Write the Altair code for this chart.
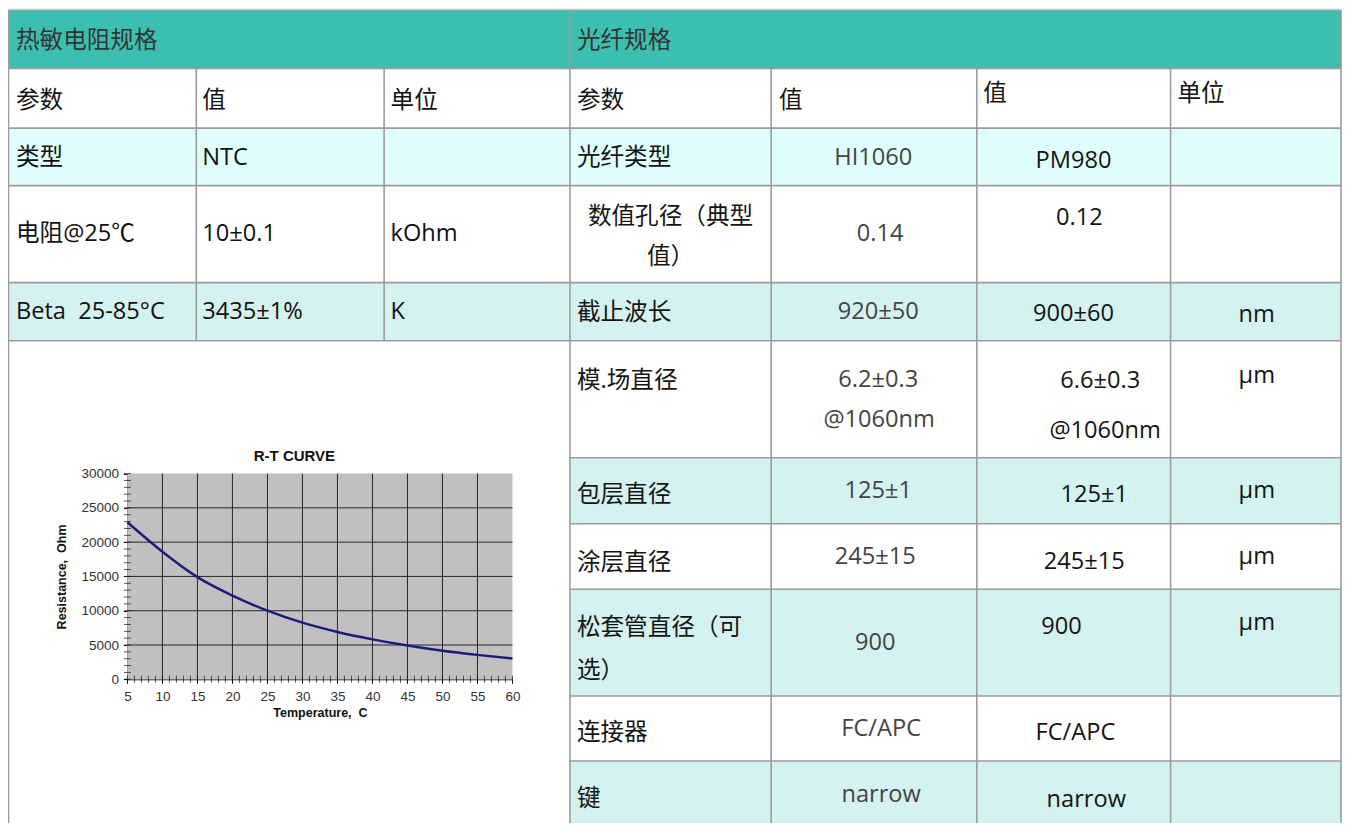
import altair as alt
import pandas as pd

# ---------------- data ----------------
rt_temperature = [5, 10, 15, 20, 25, 30, 35, 40, 45, 50, 55, 60]
rt_resistance = [22900, 18600, 14900, 12200, 10000, 8250, 6900, 5830, 4930, 4170, 3560, 3030]
rt_x_ticks = [5, 10, 15, 20, 25, 30, 35, 40, 45, 50, 55, 60]
rt_y_ticks = [0, 5000, 10000, 15000, 20000, 25000, 30000]
rt_x_minor = list(range(5, 61, 1))
rt_y_minor = list(range(0, 30001, 1000))
rt_title = "R-T CURVE"
rt_x_title = "Temperature,\u00a0 C"
rt_y_title = "Resistance,\u00a0 Ohm"

thermistor_title = "热敏电阻规格"
fiber_title = "光纤规格"
thermistor_columns = ["参数", "值", "单位"]
thermistor_params = ["类型", "电阻@25℃", "Beta \u00a025-85°C"]
thermistor_values = ["NTC", "10±0.1", "3435±1%"]
thermistor_units = ["", "kOhm", "K"]
fiber_columns = ["参数", "值", "值", "单位"]
fiber_params = [["光纤类型"], ["数值孔径（典型", "值）"], ["截止波长"], ["模.场直径"], ["包层直径"],
                ["涂层直径"], ["松套管直径（可", "选）"], ["连接器"], ["键"]]
fiber_hi1060 = [["HI1060"], ["0.14"], ["920±50"], ["6.2±0.3", "@1060nm"], ["125±1"],
                ["245±15"], ["900"], ["FC/APC"], ["narrow"]]
fiber_pm980 = [["PM980"], ["0.12"], ["900±60"], ["6.6±0.3", "@1060nm"], ["125±1"],
               ["245±15"], ["900"], ["FC/APC"], ["narrow"]]
fiber_units = [[], [], ["nm"], ["µm"], ["µm"], ["µm"], ["µm"], [], []]

# ---------------- layout (reference pixel space) ----------------
W, H = 1335, 815
X0, X1 = 2, 1349
Y0, Y1 = 3, 831
SX = W / (X1 - X0)
SY = H / (Y1 - Y0)


def px(x):
    return (x - X0) * SX


def py(y):
    return (y - Y0) * SY


LEFT, MID, RIGHT, TOP, BOTTOM = 2.5, 569, 1347, 5, 831
left_cols = [192, 381.5]
right_cols = [772, 979.5, 1175]
full_rows = [64.5, 125, 183.5]
left_rows = [282, 341]
right_rows = [282, 341, 460, 527, 593.5, 702, 768]

TEAL = "#3dbfaf"
CYAN1 = "#e0fffc"
CYAN2 = "#d4f2ef"
BORDER = "#9c9c9c"

bg_rows = [
    (LEFT, RIGHT, TOP, 64.5, TEAL),
    (LEFT, RIGHT, 125, 183.5, CYAN1),
    (LEFT, RIGHT, 282, 341, CYAN2),
    (MID, RIGHT, 460, 527, CYAN2),
    (MID, RIGHT, 593.5, 702, CYAN2),
    (MID, RIGHT, 768, BOTTOM, CYAN2),
]
bg_df = pd.DataFrame(bg_rows, columns=["x", "x2", "y", "y2", "c"])

lines = []
lines.append((LEFT, RIGHT, 4.5, 4.5, "#c8c8c8"))
for y in full_rows:
    lines.append((LEFT, RIGHT, y, y, BORDER))
for y in left_rows:
    lines.append((LEFT, MID, y, y, BORDER))
for y in right_rows:
    lines.append((MID, RIGHT, y, y, BORDER))
for x in (LEFT, MID, RIGHT):
    lines.append((x, x, TOP, BOTTOM, BORDER))
for x in left_cols:
    lines.append((x, x, 64.5, 341, BORDER))
for x in right_cols:
    lines.append((x, x, 64.5, BOTTOM, BORDER))
line_df = pd.DataFrame(lines, columns=["x", "x2", "y", "y2", "c"])

# text positions
thermistor_x = [10, 198, 388]
thermistor_header_y = 97
thermistor_row_y = [155, 233, 312]
fiber_header_pos = [(576, 97), (780, 97), (986, 90), (1182, 90)]
fiber_param_pos = [[(576, 155, "left")], [(670.5, 215, "center"), (670.5, 256, "center")],
                   [(576, 313, "left")], [(576, 382, "left")], [(576, 498, "left")],
                   [(576, 567, "left")], [(576, 633, "left"), (576, 677, "left")],
                   [(576, 740, "left")], [(576, 807, "left")]]
fiber_hi_pos = [[(875, 155)], [(882, 233)], [(880, 312)], [(880, 381), (881, 422)], [(880, 494)],
                [(877, 561)], [(877, 648)], [(883, 735)], [(883, 803)]]
fiber_pm_pos = [[(1077, 158)], [(1083, 216)], [(1077, 314)], [(1104, 382), (1109, 433)], [(1098, 498)],
                [(1088, 566)], [(1065, 632)], [(1079, 740)], [(1090, 808)]]
fiber_unit_pos = [[], [], [(1262, 315)], [(1262, 377)], [(1262, 494)], [(1262, 561)], [(1262, 628)], [], []]

texts = []


def add(text, x, y, style, align):
    if text:
        texts.append({"text": text, "x": x, "y": y, "style": style, "align": align})


add(thermistor_title, 10, 37, "head", "left")
add(fiber_title, 576, 37, "head", "left")
for t, x in zip(thermistor_columns, thermistor_x):
    add(t, x, thermistor_header_y, "ltext", "left")
for i, y in enumerate(thermistor_row_y):
    add(thermistor_params[i], thermistor_x[0], y, "ltext", "left")
    add(thermistor_values[i], thermistor_x[1], y, "ltext", "left")
    add(thermistor_units[i], thermistor_x[2], y, "ltext", "left")
for t, (x, y) in zip(fiber_columns, fiber_header_pos):
    add(t, x, y, "rtext", "left")
for lines_, pos in zip(fiber_params, fiber_param_pos):
    for t, (x, y, a) in zip(lines_, pos):
        add(t, x, y, "rtext", a)
for lines_, pos in zip(fiber_hi1060, fiber_hi_pos):
    for t, (x, y) in zip(lines_, pos):
        add(t, x, y, "rgray", "center")
for lines_, pos in zip(fiber_pm980, fiber_pm_pos):
    for t, (x, y) in zip(lines_, pos):
        add(t, x, y, "rtext", "center")
for lines_, pos in zip(fiber_units, fiber_unit_pos):
    for t, (x, y) in zip(lines_, pos):
        add(t, x, y, "rtext", "center")
add(rt_title, 291, 458, "rttitle", "center")
text_df = pd.DataFrame(texts)

FS = 24 * SY
MIXED = "Open Sans, Noto Sans CJK SC"
styles = {
    "head": dict(font="Noto Sans CJK SC", fontSize=FS, color="#353535", fontWeight="normal"),
    "ltext": dict(font=MIXED, fontSize=FS, color="#111111", fontWeight="normal"),
    "rtext": dict(font=MIXED, fontSize=FS, color="#141414", fontWeight="normal"),
    "rgray": dict(font=MIXED, fontSize=FS, color="#444444", fontWeight="normal"),
    "rttitle": dict(font="Liberation Sans", fontSize=15, color="#111111", fontWeight="bold"),
}

tx = alt.Scale(domain=[X0, X1], nice=False, zero=False)
ty = alt.Scale(domain=[Y1, Y0], nice=False, zero=False)

bg_layer = alt.Chart(bg_df).mark_rect(strokeWidth=0).encode(
    x=alt.X("x:Q", scale=tx, axis=None), x2="x2:Q",
    y=alt.Y("y:Q", scale=ty, axis=None), y2="y2:Q",
    color=alt.Color("c:N", scale=None),
)
line_layer = alt.Chart(line_df).mark_rule(strokeWidth=1.6).encode(
    x=alt.X("x:Q", scale=tx, axis=None), x2="x2:Q",
    y=alt.Y("y:Q", scale=ty, axis=None), y2="y2:Q",
    color=alt.Color("c:N", scale=None),
)
text_layers = []
for (style, align), sub in text_df.groupby(["style", "align"]):
    st = styles[style]
    text_layers.append(
        alt.Chart(sub).mark_text(align=align, baseline="middle", **st).encode(
            x=alt.X("x:Q", scale=tx, axis=None),
            y=alt.Y("y:Q", scale=ty, axis=None),
            text="text:N",
        )
    )
table = alt.layer(bg_layer, line_layer, *text_layers)

# ---------------- R-T chart ----------------
PL, PR, PT, PB = 122.5, 511, 476, 685
rx = alt.Scale(domain=[rt_x_ticks[0], rt_x_ticks[-1]], range=[px(PL), px(PR)], nice=False, zero=False)
ry = alt.Scale(domain=[rt_y_ticks[0], rt_y_ticks[-1]], range=[py(PB), py(PT)], nice=False, zero=False)

ax_x = alt.Axis(
    values=rt_x_ticks, orient="bottom", offset=py(PB) - H, title=rt_x_title, grid=False, format="d",
    domainColor="#111111", tickColor="#111111", tickSize=4, labelFont="Liberation Sans",
    labelFontSize=13.5, labelColor="#333333", labelPadding=6, labelFlush=False,
    titleFont="Liberation Sans", titleFontSize=12.5, titleFontWeight="bold", titleColor="#111111",
    titlePadding=4)
ax_y = alt.Axis(
    values=rt_y_ticks, orient="left", offset=-px(PL), title=rt_y_title, grid=False, format="d",
    domainColor="#111111", tickColor="#111111", tickSize=4, labelFont="Liberation Sans",
    labelFontSize=13.5, labelColor="#333333", labelPadding=5, labelFlush=False,
    titleFont="Liberation Sans", titleFontSize=12.5, titleFontWeight="bold", titleColor="#111111",
    titlePadding=12)

rt_df = pd.DataFrame({"t": rt_temperature, "r": rt_resistance})
box_df = pd.DataFrame({"t": [rt_x_ticks[0]], "t2": [rt_x_ticks[-1]], "r": [rt_y_ticks[0]], "r2": [rt_y_ticks[-1]]})
vgrid_df = pd.DataFrame({"t": rt_x_ticks[1:-1], "r": rt_y_ticks[0], "r2": rt_y_ticks[-1]})
hgrid_df = pd.DataFrame({"r": rt_y_ticks[1:-1], "t": rt_x_ticks[0], "t2": rt_x_ticks[-1]})
xminor_df = pd.DataFrame({"t": rt_x_minor, "r": rt_y_ticks[0]})
yminor_df = pd.DataFrame({"t": rt_x_ticks[0], "r": rt_y_minor})

X = alt.X("t:Q", scale=rx, axis=ax_x, title=rt_x_title)
Y = alt.Y("r:Q", scale=ry, axis=ax_y, title=rt_y_title)

plot_bg = alt.Chart(box_df).mark_rect(color="#c0c0c0").encode(x=X, x2="t2:Q", y=Y, y2="r2:Q")
vgrid = alt.Chart(vgrid_df).mark_rule(color="#262626", strokeWidth=1).encode(x=X, y=Y, y2="r2:Q")
hgrid = alt.Chart(hgrid_df).mark_rule(color="#262626", strokeWidth=1).encode(y=Y, x=X, x2="t2:Q")
xminor = alt.Chart(xminor_df).mark_tick(orient="vertical", size=7, thickness=1, color="#111111").encode(x=X, y=Y)
yminor = alt.Chart(yminor_df).mark_tick(orient="horizontal", size=7, thickness=1, color="#111111").encode(x=X, y=Y)
curve = alt.Chart(rt_df).mark_line(interpolate="monotone", color="#1c1c7a", strokeWidth=2.4).encode(x=X, y=Y)
rt_chart = alt.layer(plot_bg, vgrid, hgrid, curve, xminor, yminor)

chart = alt.layer(table, rt_chart).resolve_scale(x="independent", y="independent").properties(
    width=W, height=H, padding=0, autosize=alt.AutoSizeParams(type="none"), background="white"
).configure_view(stroke=None)

chart.save("out.html", embed_options={"renderer": "svg", "actions": False})
